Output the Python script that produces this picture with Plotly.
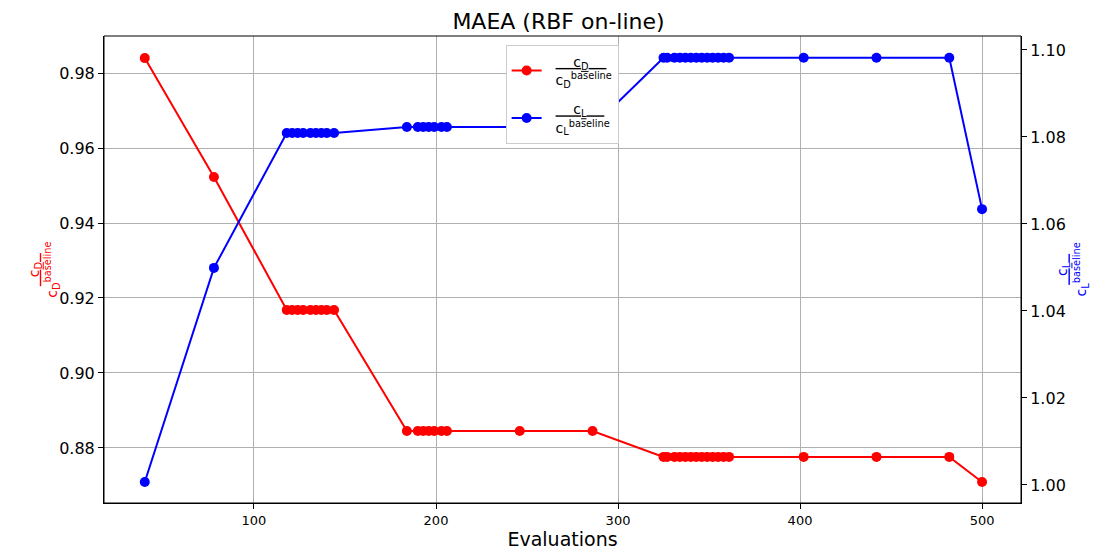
import plotly.graph_objects as go

# Data
evaluations = [40, 78, 118, 121, 124, 127, 131, 134, 137, 140, 144,
               184, 190, 193, 196, 199, 203, 206, 246, 286,
               325, 327, 331, 334, 337, 340, 343, 346, 349, 352, 355, 358, 361,
               402, 442, 482, 500]
cd_ratio = [0.9840, 0.9523] + [0.9168] * 9 + [0.8845] * 9 + [0.8776] * 16 + [0.8709]
cl_ratio = [1.0007, 1.0499] + [1.0809] * 9 + [1.0823] * 9 + [1.0982] * 16 + [1.0634]

x_ticks = [100, 200, 300, 400, 500]
left_ticks = [0.88, 0.90, 0.92, 0.94, 0.96, 0.98]
right_ticks = [1.00, 1.02, 1.04, 1.06, 1.08, 1.10]

FONT = "DejaVu Sans"

cd_name = "&nbsp;&nbsp;<span style='text-decoration:underline'>&nbsp;&nbsp;&nbsp;&nbsp;c<sub>D</sub>&nbsp;&nbsp;&nbsp;&nbsp;</span><br>&nbsp;&nbsp;c<sub>D</sub><sup>baseline</sup>"
cl_name = "&nbsp;&nbsp;<span style='text-decoration:underline'>&nbsp;&nbsp;&nbsp;&nbsp;c<sub>L</sub>&nbsp;&nbsp;&nbsp;&nbsp;</span><br>&nbsp;&nbsp;c<sub>L</sub><sup>baseline</sup>"

fig = go.Figure()
fig.add_trace(go.Scatter(
    x=evaluations, y=cd_ratio, mode="lines+markers", name=cd_name, legendgroup="cd",
    line=dict(color="#ff0000", width=2), marker=dict(color="#ff0000", size=10),
    yaxis="y"))
fig.add_trace(go.Scatter(
    x=evaluations, y=cl_ratio, mode="lines+markers", name=cl_name, legendgroup="cl",
    line=dict(color="#0000ff", width=2), marker=dict(color="#0000ff", size=10),
    yaxis="y2"))

axis_common = dict(showline=True, linecolor="black", linewidth=1, mirror=False,
                   ticks="outside", ticklen=5, tickcolor="black", zeroline=False,
                   automargin=False)

fig.update_layout(
    width=1117, height=552,
    margin=dict(l=104, r=96, t=36, b=49),
    paper_bgcolor="white", plot_bgcolor="white",
    font=dict(family=FONT, color="black"),
    title=dict(text="MAEA (RBF on-line)", x=0.5, xanchor="center", y=0.962, yanchor="middle",
               font=dict(size=22, family=FONT), automargin=False),
    xaxis=dict(range=[17.6, 521.4], tickvals=x_ticks, showgrid=True, gridcolor="#b0b0b0",
               gridwidth=1, tickfont=dict(size=13),
               title=dict(text="Evaluations", font=dict(size=19), standoff=6),
               **axis_common),
    yaxis=dict(range=[0.8653, 0.9899], tickvals=left_ticks, tickformat=".2f",
               showgrid=True, gridcolor="#b0b0b0", gridwidth=1, tickfont=dict(size=16),
               **axis_common),
    yaxis2=dict(range=[0.99586, 1.1032], tickvals=right_ticks, tickformat=".2f",
                overlaying="y", side="right", showgrid=False, tickfont=dict(size=16),
                **axis_common),
    legend=dict(x=0.438, y=0.981, xanchor="left", yanchor="top", bgcolor="white",
                bordercolor="#cccccc", borderwidth=1, font=dict(size=14),
                tracegroupgap=8),
    showlegend=True,
)

# top and right frame lines
fig.add_shape(type="rect", xref="paper", yref="paper", x0=0, y0=0, x1=1, y1=1,
              line=dict(color="black", width=1), layer="above")

fig.add_annotation(
    text="<span style='text-decoration:underline'>&nbsp;&nbsp;c<sub>D</sub>&nbsp;&nbsp;</span><br>c<sub>D</sub><sup>baseline</sup>",
    xref="paper", yref="paper", x=-0.088, y=0.5, textangle=-90, showarrow=False,
    font=dict(color="#ff0000", size=14, family=FONT))
fig.add_annotation(
    text="<span style='text-decoration:underline'>&nbsp;&nbsp;c<sub>L</sub>&nbsp;&nbsp;</span><br>c<sub>L</sub><sup>baseline</sup>",
    xref="paper", yref="paper", x=1.0774, y=0.5, textangle=-90, showarrow=False,
    font=dict(color="#0000ff", size=14, family=FONT))

fig.write_html("out.html")
